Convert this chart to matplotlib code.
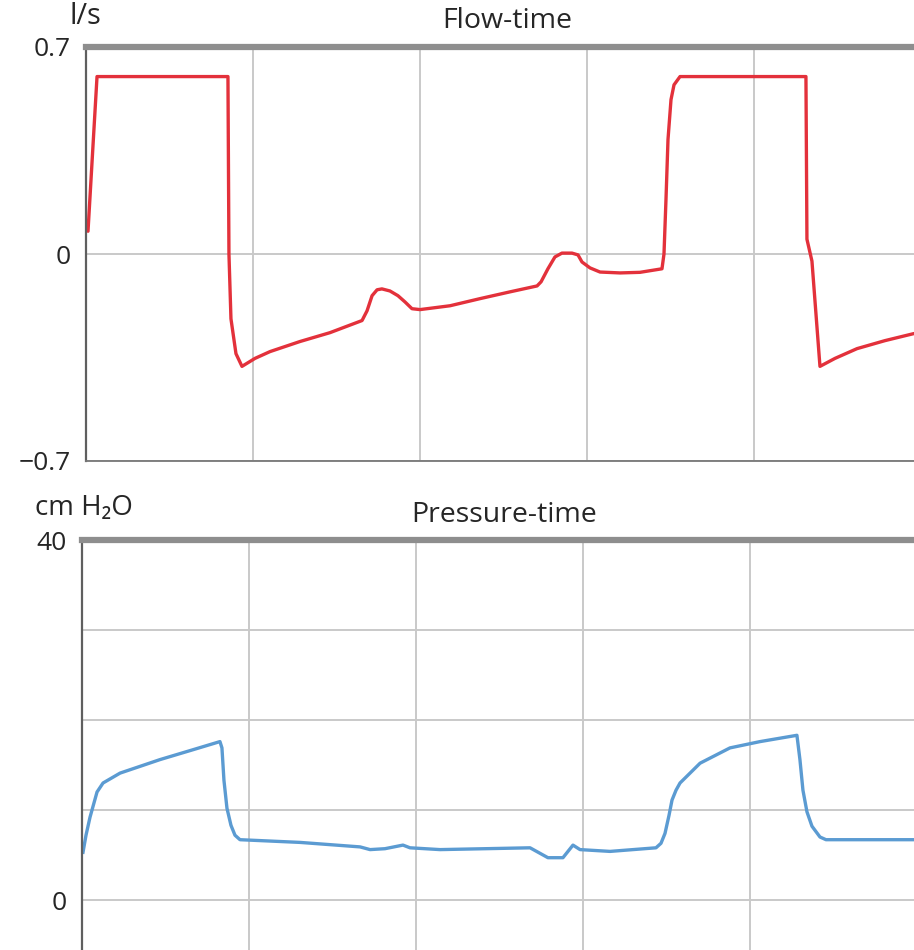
import matplotlib
matplotlib.use("Agg")
import matplotlib.pyplot as plt

plt.rcParams['font.family'] = ['Open Sans', 'DejaVu Sans']

# flow-time curve (time in grid units, flow in l/s)
flow_t = [0.012, 0.066, 0.850, 0.856, 0.868, 0.898, 0.934, 1.012, 1.102, 1.281, 1.461,
          1.653, 1.683, 1.713, 1.743, 1.772, 1.820, 1.868, 1.910, 1.952, 2.000, 2.180,
          2.359, 2.539, 2.701, 2.725, 2.766, 2.808, 2.850, 2.910, 2.946, 2.970, 3.018,
          3.078, 3.198, 3.317, 3.449, 3.461, 3.473, 3.485, 3.503, 3.521, 3.557, 4.311,
          4.317, 4.347, 4.371, 4.395, 4.485, 4.617, 4.784, 4.958]
flow_v = [0.077, 0.600, 0.600, 0.0, -0.219, -0.337, -0.380, -0.353, -0.330, -0.296, -0.266,
          -0.225, -0.192, -0.141, -0.121, -0.118, -0.125, -0.141, -0.162, -0.185, -0.188, -0.175,
          -0.151, -0.128, -0.108, -0.094, -0.050, -0.010, 0.003, 0.003, -0.003, -0.027, -0.047,
          -0.061, -0.064, -0.062, -0.050, 0.0, 0.185, 0.387, 0.522, 0.572, 0.600, 0.600,
          0.050, -0.024, -0.202, -0.380, -0.353, -0.320, -0.293, -0.269]

# pressure-time curve (cm H2O)
pres_t = [0.006, 0.024, 0.048, 0.090, 0.126, 0.228, 0.467, 0.665, 0.826, 0.838, 0.850,
          0.868, 0.892, 0.916, 0.946, 1.066, 1.305, 1.665, 1.725, 1.814, 1.922, 1.964,
          2.144, 2.683, 2.790, 2.880, 2.940, 2.982, 3.162, 3.437, 3.467, 3.491, 3.515,
          3.533, 3.557, 3.581, 3.701, 3.880, 4.060, 4.281, 4.299, 4.317, 4.341, 4.371,
          4.419, 4.455, 4.982]
pres_v = [5.3, 7.2, 9.2, 12.0, 13.0, 14.1, 15.6, 16.7, 17.6, 16.9, 13.3,
          10.2, 8.3, 7.2, 6.7, 6.6, 6.4, 5.9, 5.6, 5.7, 6.1, 5.8,
          5.6, 5.8, 4.7, 4.7, 6.1, 5.6, 5.4, 5.8, 6.3, 7.4, 9.4,
          11.1, 12.2, 13.0, 15.2, 16.9, 17.6, 18.3, 15.6, 12.2, 9.8, 8.2,
          7.0, 6.7, 6.7]

grid_c = "#c9c9c9"
text_c = "#262626"
W, H = 914, 950

fig = plt.figure(figsize=(9.14, 9.5), dpi=100)

def style(ax):
    ax.spines['right'].set_visible(False)
    ax.spines['top'].set_color("#8e8e8e")
    ax.spines['top'].set_linewidth(4.5)
    ax.spines['left'].set_color("#5f5f5f")
    ax.spines['left'].set_linewidth(1.6)
    ax.spines['bottom'].set_color("#777777")
    ax.spines['bottom'].set_linewidth(1.3)
    ax.set_xticks([1, 2, 3, 4])
    ax.tick_params(axis='x', length=0, labelbottom=False)
    ax.tick_params(axis='y', length=0, labelsize=19, colors=text_c, pad=11)
    ax.grid(True, color=grid_c, lw=1.4)
    ax.set_axisbelow(True)

# top panel
ax1 = fig.add_axes([86 / W, 1 - 461 / H, 1 - 86 / W, (461 - 47) / H])
style(ax1)
ax1.set_xlim(0, (W - 86) / 167)
ax1.set_ylim(-0.7, 0.7)
ax1.set_yticks([-0.7, 0, 0.7])
ax1.set_yticklabels(["\u22120.7", "0", "0.7"])
ax1.plot(flow_t, flow_v, color="#e3313b", lw=2.4, solid_joinstyle='round',
         solid_capstyle='round', clip_on=False)
fig.text(70 / W, 1 - 17 / H, "l/s", fontsize=21, color=text_c, va='center', ha='left')
fig.text(507 / W, 1 - 21 / H, "Flow-time", fontsize=20.5, color=text_c, va='center', ha='center')

# bottom panel
ax2 = fig.add_axes([82 / W, 0, 1 - 82 / W, 1 - 540 / H])
style(ax2)
ax2.spines['bottom'].set_visible(False)
ax2.set_xlim(0, (W - 82) / 167)
ax2.set_ylim(-(950 - 900) / 9, 40)
ax2.set_yticks([0, 10, 20, 30, 40])
ax2.set_yticklabels(["0", "", "", "", "40"])
ax2.plot(pres_t, pres_v, color="#5b9bd2", lw=2.4, solid_joinstyle='round')
fig.text(35 / W, 1 - 508 / H, "cm H\u2082O", fontsize=20, color=text_c, va='center', ha='left')
fig.text(504 / W, 1 - 515 / H, "Pressure-time", fontsize=20.5, color=text_c, va='center', ha='center')

plt.savefig("out.png", dpi=100)
plt.close()
